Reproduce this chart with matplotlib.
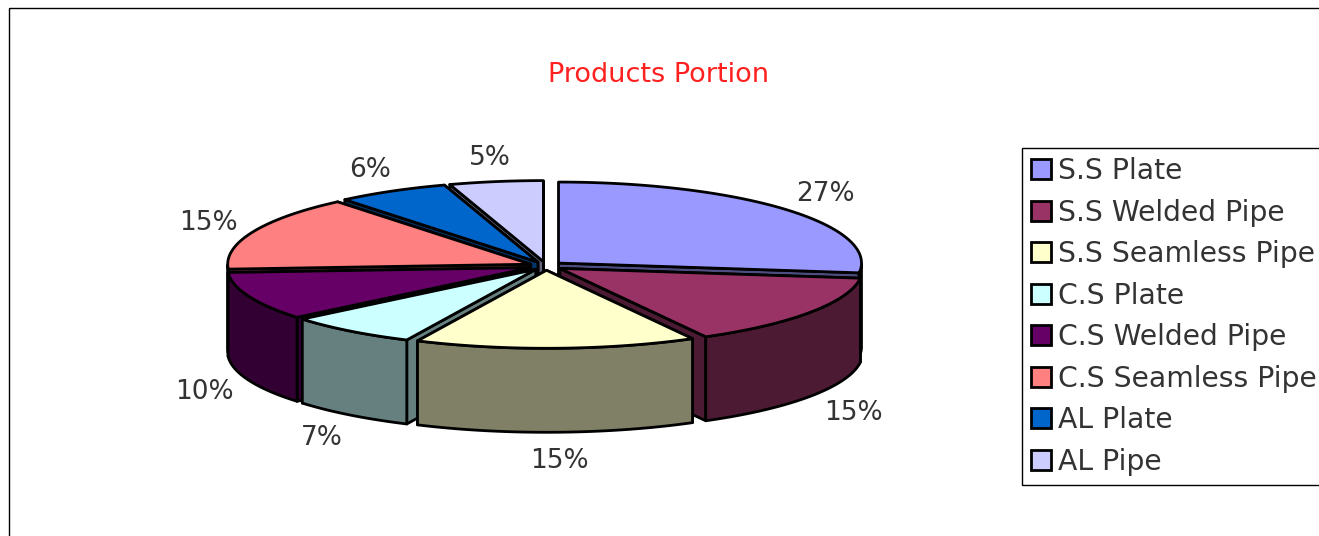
import numpy as np
import matplotlib
matplotlib.use("Agg")
import matplotlib.pyplot as plt
from matplotlib.patches import Polygon, Rectangle

labels = ["S.S Plate", "S.S Welded Pipe", "S.S Seamless Pipe", "C.S Plate",
          "C.S Welded Pipe", "C.S Seamless Pipe", "AL Plate", "AL Pipe"]
values = [27, 15, 15, 7, 10, 15, 6, 5]
colors = ["#9999FF", "#993366", "#FFFFCC", "#CCFFFF",
          "#660066", "#FF8080", "#0066CC", "#CCCCFF"]
title = "Products Portion"

# pie geometry in image pixels
cx, cy = 546, 266
a = 303
b_back, b_front = 81, 78
depth = 84
expl = 0.055
text_col = "#333333"
plt.rcParams['font.family'] = ['DejaVu Sans']


def point(th, r=1.0, ox=0.0, oy=0.0):
    # th is clockwise from 12 o'clock, the front half is a bit flatter
    c = np.cos(th)
    return ox + r * a * np.sin(th), oy - r * np.where(c > 0, b_back, b_front) * c


def darker(col):
    rgb = np.array(matplotlib.colors.to_rgb(col)) * 0.5
    return tuple(rgb)


fig = plt.figure(figsize=(13.19, 5.36), dpi=100)
ax = fig.add_axes([0, 0, 1, 1])
ax.set_xlim(0, 1319)
ax.set_ylim(536, 0)
ax.axis("off")

ax.add_patch(Rectangle((9, 8), 1400, 600, fc="none", ec="black", lw=1.0))
ax.text(659, 75, title, color="#FF2020", fontsize=19.5, ha="center", va="center")

total = sum(values)
edges = np.cumsum([0] + values) / total * 2 * np.pi

slices = []
for i in range(len(values)):
    slices.append((edges[i], edges[i + 1], colors[i], values[i]))
# back slices first
slices.sort(key=lambda s: -np.cos((s[0] + s[1]) / 2))

for t0, t1, col, val in slices:
    mid = (t0 + t1) / 2
    ox, oy = point(mid, expl, cx, cy)
    side = darker(col)
    arc = np.linspace(t0, t1, 120)
    ax_, ay_ = point(arc, 1.0, ox, oy)

    # cut faces, further one first
    faces = sorted([t0, t1], key=lambda t: -np.cos(t))
    for t in faces:
        ex, ey = point(t, 1.0, ox, oy)
        pts = [(ox, oy), (ex, ey), (ex, ey + depth), (ox, oy + depth)]
        ax.add_patch(Polygon(pts, fc=side, ec="black", lw=2.0, joinstyle="round"))

    # outer wall, only the front part of the arc
    front = np.cos(arc) <= 0
    if front.any():
        fx, fy = ax_[front], ay_[front]
        pts = np.r_[np.c_[fx, fy], np.c_[fx[::-1], fy[::-1] + depth]]
        ax.add_patch(Polygon(pts, fc=side, ec="black", lw=2.0, joinstyle="round"))

    # top
    pts = np.r_[[[ox, oy]], np.c_[ax_, ay_]]
    ax.add_patch(Polygon(pts, fc=col, ec="black", lw=2.0, joinstyle="round"))

for i, val in enumerate(values):
    mid = (edges[i] + edges[i + 1]) / 2
    lx = cx + 2 + 1.22 * a * np.sin(mid)
    ly = cy + 1 - 1.38 * 80 * np.cos(mid)
    if np.cos(mid) < 0:
        ly += depth
    ax.text(lx, ly, f"{val}%", fontsize=19, color=text_col, ha="center", va="center")

handles = [Rectangle((0, 0), 1, 1, fc=c, ec="black", lw=2.0) for c in colors]
leg = ax.legend(handles, labels, loc="upper left", bbox_to_anchor=(1022, 148),
                bbox_transform=ax.transData, fontsize=20.3, labelcolor=text_col,
                frameon=True, fancybox=False, edgecolor="black", framealpha=1,
                borderaxespad=0, borderpad=0.32, labelspacing=0.48,
                handlelength=0.7, handleheight=0.7, handletextpad=0.24)
leg.get_frame().set_linewidth(1.0)

fig.savefig("out.png", dpi=100)
